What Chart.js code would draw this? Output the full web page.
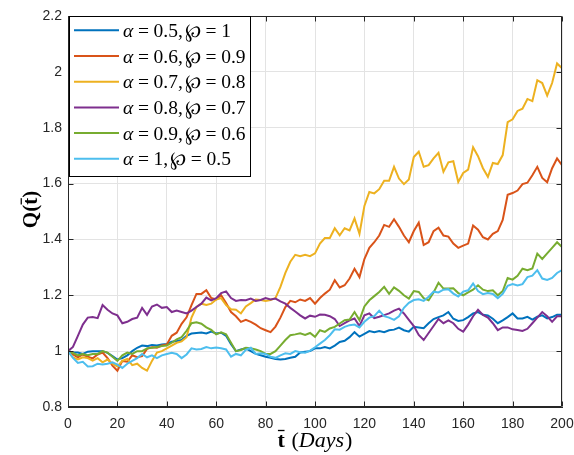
<!DOCTYPE html>
<html>
<head>
<meta charset="utf-8">
<script src="https://cdn.jsdelivr.net/npm/chart.js@4.4.0/dist/chart.umd.min.js"></script>
<style>
  html, body { margin: 0; padding: 0; background: #ffffff; }
  canvas { display: block; }
</style>
</head>
<body>
<canvas id="c" width="574" height="455"></canvas>
<script>
// Sample days (every second day)
const days = [
  0, 2, 4, 6, 8, 10, 12, 14, 16, 18,
  20, 22, 24, 26, 28, 30, 32, 34, 36, 38,
  40, 42, 44, 46, 48, 50, 52, 54, 56, 58,
  60, 62, 64, 66, 68, 70, 72, 74, 76, 78,
  80, 82, 84, 86, 88, 90, 92, 94, 96, 98,
  100, 102, 104, 106, 108, 110, 112, 114, 116, 118,
  120, 122, 124, 126, 128, 130, 132, 134, 136, 138,
  140, 142, 144, 146, 148, 150, 152, 154, 156, 158,
  160, 162, 164, 166, 168, 170, 172, 174, 176, 178,
  180, 182, 184, 186, 188, 190, 192, 194, 196, 198,
  200
];

const seriesLabels = [
  'α = 0.5, ℘ = 1',
  'α = 0.6, ℘ = 0.9',
  'α = 0.7, ℘ = 0.8',
  'α = 0.8, ℘ = 0.7',
  'α = 0.9, ℘ = 0.6',
  'α = 1, ℘ = 0.5'
];

const seriesColors = ['#0072BD', '#D95319', '#EDB120', '#7E2F8E', '#77AC30', '#4DBEEE'];

// Q(t) for alpha = 0.5, wp = 1
const qA05 = [
  1.0, 0.995, 0.995, 0.99, 0.998, 1.0, 1.0, 1.0, 0.994, 0.982,
  0.97, 0.975, 0.985, 1.0, 1.012, 1.02, 1.018, 1.022, 1.02, 1.024,
  1.026, 1.034, 1.036, 1.04, 1.055, 1.063, 1.065, 1.067, 1.063, 1.07,
  1.063, 1.066, 1.055, 1.025, 1.0, 1.006, 1.01, 1.0, 0.99, 0.985,
  0.98, 0.976, 0.972, 0.97, 0.972, 0.976, 0.98, 0.995, 0.998, 1.0,
  1.01, 1.01, 1.015, 1.01, 1.02, 1.033, 1.037, 1.05, 1.068, 1.052,
  1.062, 1.072, 1.068, 1.072, 1.068, 1.075, 1.077, 1.084, 1.075, 1.07,
  1.087, 1.085, 1.082, 1.1, 1.115, 1.122, 1.128, 1.14, 1.116, 1.108,
  1.111, 1.122, 1.135, 1.14, 1.13, 1.128, 1.116, 1.1, 1.11, 1.122,
  1.135, 1.117, 1.117, 1.123, 1.113, 1.123, 1.128, 1.117, 1.122, 1.13,
  1.13
];

// Q(t) for alpha = 0.6, wp = 0.9
const qA06 = [
  1.0, 0.988, 0.978, 0.988, 0.98, 0.974, 0.988, 0.995, 0.975, 0.948,
  0.93, 0.965, 0.962, 0.985, 0.978, 0.982, 1.008, 1.014, 1.012, 1.02,
  1.024, 1.055, 1.066, 1.098, 1.121, 1.165, 1.205, 1.205, 1.218, 1.19,
  1.185, 1.2, 1.172, 1.14, 1.125, 1.105, 1.112, 1.105, 1.095, 1.082,
  1.075, 1.068, 1.088, 1.12, 1.158, 1.18, 1.175, 1.185, 1.18, 1.19,
  1.17, 1.19, 1.206, 1.22, 1.254, 1.228, 1.236, 1.26, 1.295, 1.265,
  1.33, 1.37, 1.39, 1.414, 1.452, 1.445, 1.472, 1.445, 1.414, 1.39,
  1.43, 1.46, 1.38, 1.39, 1.43, 1.442, 1.414, 1.41, 1.385, 1.37,
  1.378, 1.385, 1.45, 1.435, 1.408, 1.4, 1.42, 1.43, 1.47, 1.56,
  1.566, 1.575, 1.598, 1.603, 1.63, 1.66, 1.62, 1.605, 1.655, 1.69,
  1.666
];

// Q(t) for alpha = 0.7, wp = 0.8
const qA07 = [
  1.0, 0.978, 0.97, 0.978, 0.975, 0.966, 0.975, 0.96, 0.97, 0.955,
  0.945, 0.965, 0.972, 0.95, 0.955, 0.94, 0.93, 0.965, 0.995, 1.0,
  1.01, 1.02, 1.03, 1.035, 1.05, 1.12, 1.158, 1.17, 1.165, 1.17,
  1.185, 1.19, 1.165, 1.15, 1.148, 1.135, 1.16, 1.172, 1.185, 1.183,
  1.18, 1.183, 1.19, 1.23, 1.28, 1.32, 1.345, 1.34, 1.345, 1.34,
  1.35, 1.385, 1.405, 1.405, 1.44, 1.415, 1.44, 1.432, 1.475, 1.42,
  1.52, 1.57, 1.565, 1.58, 1.61, 1.61, 1.66, 1.618, 1.598, 1.615,
  1.695, 1.714, 1.66, 1.666, 1.69, 1.71, 1.642, 1.676, 1.68, 1.606,
  1.638, 1.65, 1.73, 1.698, 1.655, 1.624, 1.674, 1.67, 1.702, 1.82,
  1.83, 1.86, 1.868, 1.903, 1.895, 1.97, 1.96, 1.915, 1.96, 2.03,
  2.013
];

// Q(t) for alpha = 0.8, wp = 0.7
const qA08 = [
  1.0, 1.015, 1.055, 1.095, 1.12, 1.122, 1.118, 1.165, 1.148, 1.135,
  1.128, 1.1, 1.105, 1.115, 1.12, 1.155, 1.13, 1.16, 1.167, 1.155,
  1.158, 1.14, 1.145, 1.14, 1.135, 1.145, 1.158, 1.17, 1.192, 1.182,
  1.19, 1.208, 1.214, 1.19, 1.18, 1.183, 1.182, 1.188, 1.18, 1.183,
  1.19, 1.185, 1.188, 1.178, 1.17, 1.155, 1.142, 1.128, 1.117, 1.127,
  1.123, 1.131, 1.13, 1.125, 1.115, 1.09, 1.1, 1.11, 1.117, 1.09,
  1.128, 1.135, 1.118, 1.123, 1.129, 1.135, 1.145, 1.152, 1.135, 1.112,
  1.09, 1.058, 1.04, 1.065, 1.09, 1.115, 1.1, 1.11, 1.1, 1.08,
  1.07, 1.095, 1.125, 1.148, 1.13, 1.12, 1.1, 1.075, 1.085, 1.085,
  1.078, 1.076, 1.072, 1.08, 1.1, 1.12, 1.14, 1.125, 1.105, 1.125,
  1.125
];

// Q(t) for alpha = 0.9, wp = 0.6
const qA09 = [
  1.0, 0.994, 0.985, 0.99, 0.985, 0.99, 0.99, 1.0, 0.995, 0.98,
  0.965, 0.985, 0.995, 0.99, 1.0, 1.0, 1.01, 1.012, 1.015, 1.018,
  1.02, 1.03, 1.042, 1.05, 1.073, 1.1, 1.103, 1.098, 1.085, 1.076,
  1.06, 1.067, 1.06, 1.03, 1.0, 1.004, 1.012, 1.01, 1.006, 1.0,
  0.99, 0.99, 1.0, 1.02, 1.04, 1.057, 1.06, 1.064, 1.058, 1.065,
  1.051, 1.075, 1.069, 1.081, 1.087, 1.099, 1.111, 1.113, 1.14, 1.111,
  1.16, 1.182, 1.197, 1.212, 1.23, 1.205, 1.228, 1.216, 1.2, 1.188,
  1.215, 1.212, 1.19, 1.182, 1.21, 1.245, 1.224, 1.224, 1.225, 1.208,
  1.2, 1.21, 1.22, 1.236, 1.22, 1.215, 1.218, 1.2, 1.215, 1.262,
  1.256, 1.27, 1.295, 1.29, 1.296, 1.349, 1.33, 1.35, 1.37, 1.39,
  1.373
];

// Q(t) for alpha = 1, wp = 0.5
const qA10 = [
  1.0, 0.976, 0.958, 0.962, 0.945, 0.946, 0.955, 0.952, 0.955, 0.96,
  0.952, 0.94, 0.955, 0.965, 0.975, 0.99, 0.978, 0.985, 0.975, 0.985,
  0.99, 0.994, 0.99, 0.975, 0.988, 1.01, 1.006, 1.008, 1.015, 1.01,
  1.013, 1.01, 1.006, 0.98, 0.99, 0.985, 1.005, 1.012, 0.99, 0.992,
  0.99, 0.98, 0.976, 0.985, 0.992, 0.99, 1.0, 0.996, 0.994, 1.002,
  1.014, 1.027, 1.04, 1.057, 1.078, 1.077, 1.087, 1.093, 1.095, 1.085,
  1.105, 1.12, 1.125, 1.145, 1.125, 1.12, 1.112, 1.125, 1.155, 1.173,
  1.183, 1.186, 1.18, 1.195, 1.213, 1.21, 1.22, 1.222, 1.206, 1.196,
  1.213, 1.218, 1.242, 1.215, 1.204, 1.208, 1.205, 1.19, 1.205, 1.234,
  1.24, 1.235, 1.24, 1.265, 1.27, 1.29, 1.26, 1.255, 1.262, 1.28,
  1.29
];

const xTicks = [0, 20, 40, 60, 80, 100, 120, 140, 160, 180, 200];
const yTicks = [0.8, 1, 1.2, 1.4, 1.6, 1.8, 2, 2.2];

const allSeries = [qA05, qA06, qA07, qA08, qA09, qA10];

const AXIS_COLOR = '#262626';
const SERIF = '"Liberation Serif", "DejaVu Serif", serif';
const SANS = '"Liberation Sans", Arial, sans-serif';

// Text runs with individual styles, laid out left to right on one baseline
function measureRuns(ctx, runs, size) {
  let w = 0;
  runs.forEach(r => {
    ctx.font = `${r.style || ''} ${size}px ${SERIF}`;
    w += (r.gap || 0) * size + ctx.measureText(r.t).width;
  });
  return w;
}
function drawRuns(ctx, runs, x, y, size) {
  let cx = x;
  runs.forEach(r => {
    cx += (r.gap || 0) * size;
    ctx.font = `${r.style || ''} ${size}px ${SERIF}`;
    const w = ctx.measureText(r.t).width;
    ctx.fillText(r.t, cx, y);
    if (r.bar) {
      ctx.fillRect(cx + w * 0.05, y - size * 0.78, w * 0.9, Math.max(1, size * 0.06));
    }
    cx += w;
  });
  return cx;
}

// Legend label "α = 0.5, ℘ = 1" split into math runs
function labelRuns(label) {
  const parts = label.split(' ');
  return parts.map((t, i) => {
    let gap = 0;
    if (i > 0) gap = (t === '=' || parts[i - 1] === '=') ? 0.24 : 0.1;
    return { t, style: /^[α-ω]$/.test(t) ? 'italic' : '', gap };
  });
}

// Box around the axes with inward tick marks on all four sides
const framePlugin = {
  id: 'frame',
  afterDatasetsDraw(chart) {
    const { ctx, chartArea: a, scales } = chart;
    const L = Math.round(a.left) + 0.5, R = Math.round(a.right) - 0.5;
    const T = Math.round(a.top) + 0.5, B = Math.round(a.bottom) - 0.5;
    ctx.save();
    ctx.strokeStyle = AXIS_COLOR;
    ctx.lineWidth = 1;
    ctx.beginPath();
    ctx.rect(L, T, R - L, B - T);
    const tl = 5;
    xTicks.forEach(v => {
      const px = Math.round(scales.x.getPixelForValue(v)) + 0.5;
      ctx.moveTo(px, B); ctx.lineTo(px, B - tl);
      ctx.moveTo(px, T); ctx.lineTo(px, T + tl);
    });
    yTicks.forEach(v => {
      const py = Math.round(scales.y.getPixelForValue(v)) + 0.5;
      ctx.moveTo(L, py); ctx.lineTo(L + tl, py);
      ctx.moveTo(R, py); ctx.lineTo(R - tl, py);
    });
    ctx.stroke();
    ctx.restore();
  }
};

// Boxed legend in the upper-left corner of the axes
const boxLegendPlugin = {
  id: 'boxLegend',
  afterDraw(chart) {
    const { ctx } = chart;
    const size = 19.5;
    const x0 = 69.5, y0 = 16.5, y1 = 176.5;
    const lineX0 = 74, lineX1 = 119, textX = 123;
    const rowY0 = 30.3, rowStep = 25.7;
    ctx.save();
    let maxW = 0;
    chart.data.datasets.forEach(ds => {
      maxW = Math.max(maxW, measureRuns(ctx, labelRuns(ds.label), size));
    });
    const x1 = Math.round(textX + maxW + 4) + 0.5;
    ctx.fillStyle = '#ffffff';
    ctx.fillRect(x0, y0, x1 - x0, y1 - y0);
    ctx.strokeStyle = '#000000';
    ctx.lineWidth = 1;
    ctx.strokeRect(x0, y0, x1 - x0, y1 - y0);
    chart.data.datasets.forEach((ds, i) => {
      const ry = rowY0 + i * rowStep;
      ctx.strokeStyle = ds.borderColor;
      ctx.lineWidth = 2;
      ctx.beginPath();
      ctx.moveTo(lineX0, ry);
      ctx.lineTo(lineX1, ry);
      ctx.stroke();
      ctx.fillStyle = '#000000';
      ctx.textBaseline = 'alphabetic';
      ctx.textAlign = 'left';
      drawRuns(ctx, labelRuns(ds.label), textX, ry + 6.5, size);
    });
    ctx.restore();
  }
};

// Axis titles: t̄ (Days) and Q(t̄)
const axisTitlePlugin = {
  id: 'axisTitles',
  afterDraw(chart) {
    const { ctx, chartArea: a } = chart;
    ctx.save();
    ctx.fillStyle = '#000000';
    ctx.textBaseline = 'alphabetic';
    ctx.textAlign = 'left';

    const xs = 22;
    const xRuns = [
      { t: 't', style: 'bold', bar: true },
      { t: '(', gap: 0.3 },
      { t: 'Days', style: 'italic' },
      { t: ')', gap: 0.05 }
    ];
    const xw = measureRuns(ctx, xRuns, xs);
    drawRuns(ctx, xRuns, (a.left + a.right) / 2 - xw / 2, 447, xs);

    const ys = 21;
    const yRuns = [
      { t: 'Q', style: 'bold' },
      { t: '(', style: 'bold' },
      { t: 't', style: 'bold', bar: true },
      { t: ')', style: 'bold' }
    ];
    const yw = measureRuns(ctx, yRuns, ys);
    ctx.translate(37, (a.top + a.bottom) / 2 - 2);
    ctx.rotate(-Math.PI / 2);
    drawRuns(ctx, yRuns, -yw / 2, 0, ys);
    ctx.restore();
  }
};

new Chart(document.getElementById('c'), {
  type: 'line',
  data: {
    datasets: allSeries.map((s, i) => ({
      label: seriesLabels[i],
      data: days.map((d, j) => ({ x: d, y: s[j] })),
      borderColor: seriesColors[i],
      backgroundColor: seriesColors[i],
      borderWidth: 2,
      pointRadius: 0,
      tension: 0,
      fill: false,
      order: allSeries.length - i
    }))
  },
  options: {
    responsive: false,
    animation: false,
    devicePixelRatio: 1,
    layout: { padding: { top: 16, right: 12, left: 0, bottom: 0 } },
    plugins: { legend: { display: false }, tooltip: { enabled: false } },
    scales: {
      x: {
        type: 'linear',
        min: 0,
        max: 200,
        afterBuildTicks: s => { s.ticks = xTicks.map(v => ({ value: v })); },
        afterFit: s => { s.height = 48; s.paddingLeft = 0; s.paddingRight = 0; },
        grid: { color: '#e3e3e3', lineWidth: 1, drawTicks: false },
        border: { display: true, color: AXIS_COLOR, width: 1 },
        ticks: {
          color: AXIS_COLOR,
          font: { family: SANS, size: 14 },
          padding: 9,
          maxRotation: 0,
          autoSkip: false,
          callback: v => String(v)
        }
      },
      y: {
        type: 'linear',
        min: 0.8,
        max: 2.2,
        afterBuildTicks: s => { s.ticks = yTicks.map(v => ({ value: v })); },
        afterFit: s => { s.width = 68; s.paddingTop = 0; s.paddingBottom = 0; },
        grid: { color: '#e3e3e3', lineWidth: 1, drawTicks: false },
        border: { display: true, color: AXIS_COLOR, width: 1 },
        ticks: {
          color: AXIS_COLOR,
          font: { family: SANS, size: 14 },
          padding: 6,
          autoSkip: false,
          callback: v => String(Number(Number(v).toFixed(1)))
        }
      }
    }
  },
  plugins: [framePlugin, boxLegendPlugin, axisTitlePlugin]
});
</script>
</body>
</html>
